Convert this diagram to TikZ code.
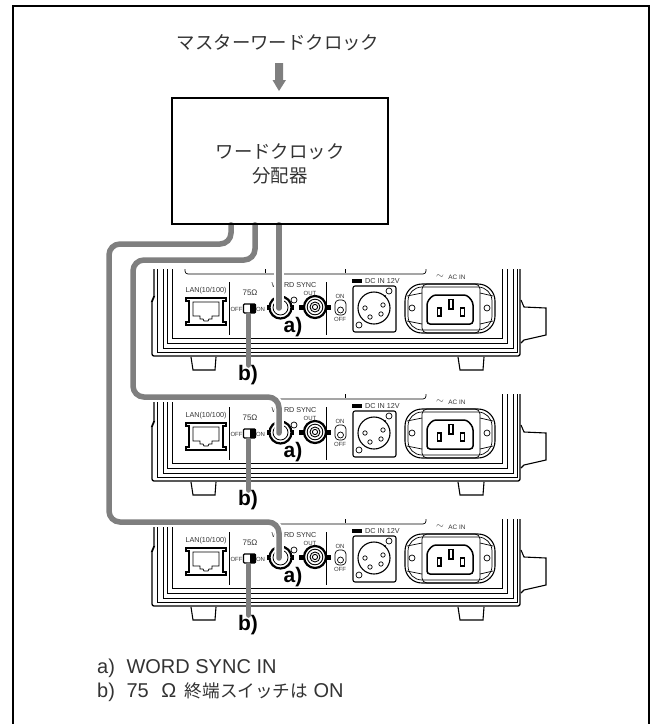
\documentclass[tikz,border=0pt]{standalone}
\usepackage{fontspec}
\setmainfont{Liberation Sans}
\newfontfamily\jpfont{Noto Sans CJK JP}
\usetikzlibrary{backgrounds}
\newcommand{\fpx}[1]{\fontsize{#1}{#1}\selectfont}
\definecolor{cablegray}{HTML}{7F7F7F}
\definecolor{inktext}{HTML}{333333}
\pgfdeclarelayer{front}
\pgfsetlayers{main,front}
\tikzset{
  px/.style={x=1pt,y=-1pt},
  thinline/.style={draw=black,line width=0.7pt},
  medline/.style={draw=black,line width=1.1pt},
  tiny label/.style={inner sep=0pt,text=inktext,font=\fpx{7.2}},
  callout/.style={inner sep=0pt,font=\fpx{21}\bfseries,text=black},
  jp label/.style={inner sep=0pt,font=\jpfont\fpx{18.4},text=inktext,align=center},
  note label/.style={inner sep=0pt,anchor=base west,font=\fpx{20},text=inktext},
  cable/.style={draw=cablegray,line width=5.5pt,rounded corners=11pt},
  cable halo/.style={draw=white,line width=9.5pt,rounded corners=11pt},
}
% #1 = suffix, #2 = vertical offset in px
\newcommand{\rearpanel}[2]{%
\begin{scope}[yshift=-#2pt]
  % body outlines
  \draw[thinline] (172,269)--(172,338)--(502,338)--(502,269);
  \draw[thinline] (167,269)--(167,343)--(507,343)--(507,269);
  \draw[thinline] (163,269)--(163,348)--(513,348)--(513,269);
  \draw[thinline] (157,269)--(157,352)--(517,352)--(517,269);
  \draw[draw=black,line width=1.3pt,rounded corners=2pt] (154,269)--(154,298)--(152,300)--(152,356)--(520,356)--(520,269);
  % feet and handle
  \draw[medline] (191,357)--(193,370)--(215,370)--(216,357);
  \draw[medline] (458,357)--(460,370)--(483,370)--(484,357);
  \draw[medline] (521,300)--(524,307)--(546,308)--(546,335)--(524,340)--(521,343);
  % bracket
  \draw[thinline,rounded corners=3pt] (185,269)--(185,274)--(426,274)--(426,269);
  \draw[thinline] (265,269)--(265,273) (345,269)--(345,273);
  % dividers
  \draw[thinline] (229,282)--(229,335) (326,282)--(326,335);
  % LAN
  \node[tiny label] (lan#1) at (206,291) {LAN(10/100)};
  \draw[medline] (186,298)--(226,298)--(226,301)--(223,301)--(223,322)--(226,322)--(226,325)--(186,325)--(186,322)--(189,322)--(189,301)--(186,301)--cycle;
  \draw[thinline] (193,302)--(219,302)--(219,316)--(212,316)--(212,319)--(209,319)--(208,321)--(204,321)--(203,319)--(200,319)--(200,316)--(193,316)--cycle;
  % termination switch
  \node[tiny label,font=\fpx{8}] (ohm#1) at (250,293) {75Ω};
  \node[tiny label,font=\fpx{6}] (off#1) at (236.5,309) {OFF};
  \node[tiny label,font=\fpx{6}] (on#1) at (260.5,309) {ON};
  \draw[medline,fill=white,rounded corners=1pt] (243.5,304) rectangle (255.5,313);
  \fill[black] (250,304) rectangle (255.5,313);
  \coordinate (sw#1) at (248.5,315);
  % word sync
  \node[tiny label] (ws#1) at (294,285) {WORD SYNC};
  \node[tiny label,font=\fpx{6}] (out#1) at (310,293) {OUT};
  \draw[thinline] (294,300) circle (3);
  \draw[black,line width=2.2pt] (280.5,307.5) circle (11);
  \draw[black,line width=0.8pt] (280.5,307.5) circle (7.5);
  \fill[black] (267,305) rectangle (270,310);
  \fill[black] (291,305) rectangle (294,310);
  \coordinate (in#1) at (279,308);
  \draw[black,line width=2.2pt] (315,307) circle (11);
  \draw[black,line width=0.9pt] (315,307) circle (7.8);
  \draw[black,line width=0.9pt] (315,307) circle (5);
  \draw[black,line width=0.9pt] (315,307) circle (2.6);
  \fill[black] (299,304.5) rectangle (304,309.5);
  \fill[black] (326,304.5) rectangle (331,309.5);
  % on/off
  \node[tiny label,font=\fpx{6}] (pon#1) at (340,296) {ON};
  \node[tiny label,font=\fpx{6}] (poff#1) at (340,319) {OFF};
  \draw[thinline,rounded corners=4pt] (335,300) rectangle (346,315);
  \draw[thinline] (340.5,310) circle (3);
  % DC IN
  \fill[black] (352,279) rectangle (362,282.5);
  \node[tiny label,anchor=west] (dc#1) at (365,281) {DC IN 12V};
  \draw[medline,rounded corners=2pt] (353,286) rectangle (396,332);
  \draw[medline] (374,308) circle (16);
  \draw[thinline] (365,308) circle (2.2) (383,305) circle (2.2) (370,317) circle (2.2) (381,314) circle (2.2);
  \draw[thinline] (389,291) circle (3) (359,325) circle (3);
  \fill[black] (385,296) circle (1.2);
  % AC IN
  \node[tiny label,font=\fpx{10}] (tilde#1) at (440,276.5) {$\sim$};
  \node[tiny label,font=\fpx{6.4}] (ac#1) at (457,277) {AC IN};
  \draw[medline,rounded corners=17pt] (405,284) rectangle (495,333);
  \draw[thinline,rounded corners=14pt] (408,287) rectangle (492,330);
  \draw[thinline,rounded corners=5pt] (422,284) rectangle (480,333);
  \draw[thinline] (407,296)--(422,293) (407,321)--(422,324) (493,296)--(480,293) (493,321)--(480,324);
  \draw[line width=1.5pt,draw=black,rounded corners=3pt] (427,302)--(433,295)--(467,295)--(473,302)--(473,324)--(427,324)--cycle;
  \draw[medline] (437.5,308) rectangle (441,316) (449,299.5) rectangle (453,309) (460.5,308) rectangle (464.5,316);
  \draw[thinline] (412,308) circle (3) (487,308) circle (3);
\end{scope}}
\begin{document}
\begin{tikzpicture}[px]
\useasboundingbox (0,0) rectangle (654,724);
% frame, open at the lower edge
\draw[black,line width=2pt] (13,724)--(13,6)--(649,6)--(649,724);
\node[jp label] (master) at (278,43) {マスターワードクロック};
\begin{pgfonlayer}{front}
\node[draw=black,line width=1.6pt,minimum width=216pt,minimum height=126pt,inner sep=0pt] (box) at (280,161) {};
\node[jp label] (boxtext) at (280,163.5) {ワードクロック\\[5.5pt]分配器};
\end{pgfonlayer}
\fill[cablegray] (275,63) -- (283,63) -- (283,80) -- (286,80) -- (279,91) -- (272.5,80) -- (275,80) -- cycle;
\rearpanel{A}{0}
\rearpanel{B}{125}
\rearpanel{C}{250}
% routing points
\coordinate (r2a) at (255,260);
\coordinate (r2b) at (133,397);
\coordinate (r3a) at (231,244);
\coordinate (r3b) at (109,522);
% word-clock cables
\draw[cable halo,line cap=round] (box.south -| inA) -- (inA);
\draw[cable,line cap=round] (box.south -| inA) -- (inA);
\draw[cable halo,line cap=round] (box.south -| r2a) -- (r2a) -- (r2b |- r2a) -- (r2b) -- (inB |- r2b) -- (inB);
\draw[cable,line cap=round] (box.south -| r2a) -- (r2a) -- (r2b |- r2a) -- (r2b) -- (inB |- r2b) -- (inB);
\draw[cable halo,line cap=round] (box.south -| r3a) -- (r3a) -- (r3b |- r3a) -- (r3b) -- (inC |- r3b) -- (inC);
\draw[cable,line cap=round] (box.south -| r3a) -- (r3a) -- (r3b |- r3a) -- (r3b) -- (inC |- r3b) -- (inC);
% call-outs
\foreach \s/\d in {A/0,B/125,C/250}{
  \node[callout] (a\s) at (293,327+\d) {a)};
  \node[callout] (b\s) at (248,375+\d) {b)};
  \draw[cable,line cap=round] (sw\s) -- (sw\s |- b\s.north);
}
\node[note label] (notea) at (97,673) {a)\hspace{6pt} WORD SYNC IN};
\node[note label] (noteb) at (97,697) {b)\hspace{6pt} 75\hspace{7pt} Ω\hspace{3pt} {\jpfont\fpx{17.6}終端スイッチは} ON};
\end{tikzpicture}
\end{document}
